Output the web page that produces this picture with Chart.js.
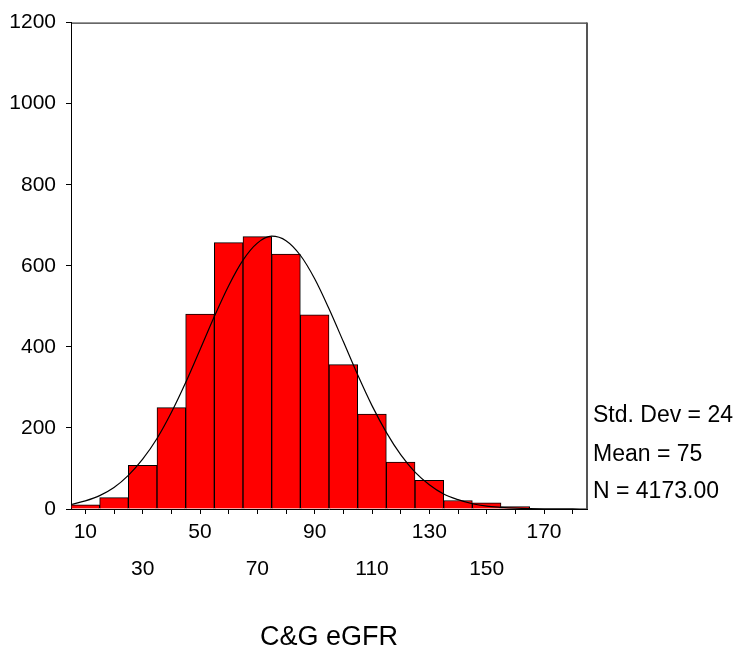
<!DOCTYPE html>
<html lang="en">
<head>
  <meta charset="UTF-8" />
  <title>C&amp;G eGFR</title>
  <script src="https://cdn.jsdelivr.net/npm/chart.js"></script>
  <style>
    html, body {
      margin: 0;
      padding: 0;
      background: #ffffff;
    }
    #chart {
      display: block;
    }
  </style>
</head>
<body>
  <canvas id="chart" width="740" height="649"></canvas>
<script>
// histogram bins (centre of each 10-unit bin) and counts
const binCenters = [10, 20, 30, 40, 50, 60, 70, 80, 90, 100, 110, 120, 130, 140, 150, 160];
const binCounts = [10, 28, 108, 250, 481, 657, 672, 629, 479, 356, 234, 116, 71, 21, 15, 6];

// fitted normal curve overlay
const curveX = [5, 10, 15, 20, 25, 30, 35, 40, 45, 50, 55, 60, 65, 70, 75, 80, 85, 90, 95,
  100, 105, 110, 115, 120, 125, 130, 135, 140, 145, 150, 155, 160, 165, 170, 175, 180, 185];
const curveY = [11, 20, 33, 53, 83, 123, 174, 238, 312, 393, 475, 551, 614, 656, 673, 662, 626, 568, 494,
  413, 331, 255, 189, 134, 91, 60, 37, 23, 13, 7, 4, 2, 1, 0.4, 0.2, 0.1, 0];

// axis ticks
const xTickValues = [10, 20, 30, 40, 50, 60, 70, 80, 90, 100, 110, 120, 130, 140, 150, 160, 170, 180];
const xTopRowLabels = [10, 50, 90, 130, 170];
const xBottomRowLabels = [30, 70, 110, 150];
const yTickValues = [0, 200, 400, 600, 800, 1000, 1200];

const statLines = ['Std. Dev = 24', 'Mean = 75', 'N = 4173.00'];
const axisTitle = 'C&G eGFR';

const FONT = "'Liberation Sans', Arial, Helvetica, sans-serif";

// box frame on top/right plus the summary text next to the plot
const framePlugin = {
  id: 'frame',
  afterDraw(chart) {
    const { ctx, chartArea: a } = chart;
    ctx.save();
    ctx.strokeStyle = '#000';
    ctx.lineWidth = 1;
    ctx.beginPath();
    ctx.moveTo(a.left, a.top + 0.5);
    ctx.lineTo(a.right, a.top + 0.5);
    ctx.stroke();
    ctx.strokeStyle = '#555';
    ctx.lineWidth = 2;
    ctx.beginPath();
    ctx.moveTo(a.right, a.top);
    ctx.lineTo(a.right, a.bottom);
    ctx.stroke();

    ctx.fillStyle = '#000';
    ctx.font = '23px ' + FONT;
    ctx.textAlign = 'left';
    ctx.textBaseline = 'middle';
    const offsets = [93, 54, 17];
    statLines.forEach((t, i) => {
      ctx.fillText(t, a.right + 6, a.bottom - offsets[i]);
    });
    ctx.restore();
  }
};

new Chart(document.getElementById('chart').getContext('2d'), {
  type: 'bar',
  data: {
    datasets: [
      {
        type: 'line',
        data: curveX.map((x, i) => ({ x: x, y: curveY[i] })),
        borderColor: '#000',
        borderWidth: 1.2,
        pointRadius: 0,
        fill: false,
        cubicInterpolationMode: 'monotone',
        order: 0
      },
      {
        type: 'bar',
        data: binCenters.map((x, i) => ({ x: x, y: binCounts[i] })),
        backgroundColor: '#ff0000',
        borderColor: '#000',
        borderWidth: 1,
        barPercentage: 1.0,
        categoryPercentage: 1.0,
        order: 1
      }
    ]
  },
  options: {
    responsive: false,
    animation: false,
    layout: {
      padding: { top: 17, right: 153, bottom: 0, left: 0 }
    },
    plugins: {
      legend: { display: false },
      tooltip: { enabled: false }
    },
    scales: {
      x: {
        type: 'linear',
        min: 5,
        max: 185,
        offset: false,
        grid: {
          offset: false,
          drawOnChartArea: false,
          drawTicks: true,
          tickLength: 5,
          color: '#000'
        },
        border: { display: true, color: '#000', width: 1 },
        afterBuildTicks(scale) {
          scale.ticks = xTickValues.map(v => ({ value: v }));
        },
        afterFit(scale) {
          scale.height = 140;
        },
        ticks: {
          autoSkip: false,
          maxRotation: 0,
          minRotation: 0,
          padding: 0,
          color: '#000',
          font: { family: FONT, size: 21, lineHeight: '37px' },
          callback(value) {
            if (xTopRowLabels.includes(value)) return String(value);
            if (xBottomRowLabels.includes(value)) return ['', String(value)];
            return '';
          }
        },
        title: {
          display: true,
          text: axisTitle,
          color: '#000',
          font: { family: FONT, size: 27, lineHeight: 1 },
          padding: { top: 0, bottom: -2 }
        }
      },
      y: {
        min: 0,
        max: 1200,
        grid: {
          drawOnChartArea: false,
          drawTicks: true,
          tickLength: 5,
          color: '#000'
        },
        border: { display: true, color: '#000', width: 1 },
        afterBuildTicks(scale) {
          scale.ticks = yTickValues.map(v => ({ value: v }));
        },
        afterFit(scale) {
          scale.width = 71;
        },
        ticks: {
          padding: 10,
          color: '#000',
          font: { family: FONT, size: 21 },
          callback(value) {
            return String(value);
          }
        }
      }
    }
  },
  plugins: [framePlugin]
});
</script>
</body>
</html>
